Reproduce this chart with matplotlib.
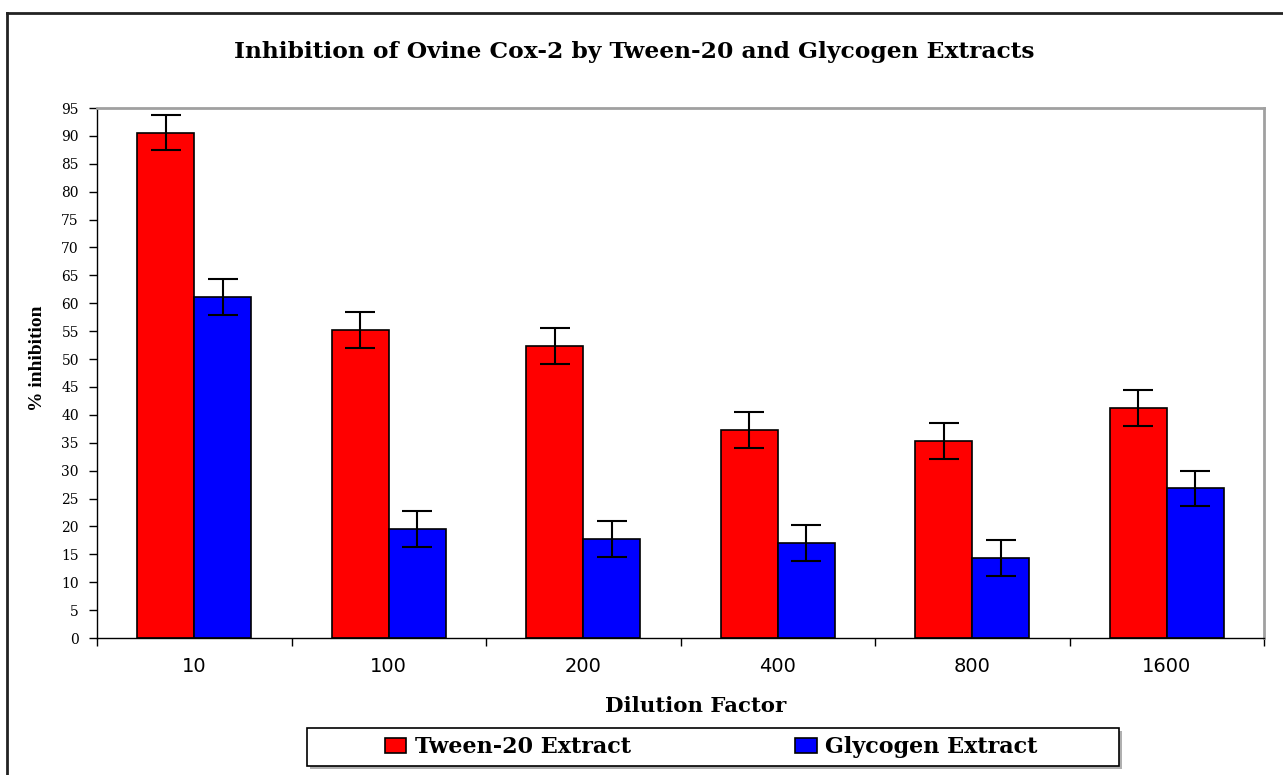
import matplotlib
matplotlib.use("Agg")
import matplotlib.pyplot as plt
import numpy as np
from matplotlib.patches import Rectangle
from matplotlib.lines import Line2D

categories = ["10", "100", "200", "400", "800", "1600"]
tween = [90.6, 55.2, 52.3, 37.3, 35.3, 41.2]
glycogen = [61.1, 19.6, 17.8, 17.0, 14.3, 26.8]
tween_err = [3.2, 3.2, 3.2, 3.2, 3.2, 3.2]
glycogen_err = [3.2, 3.2, 3.2, 3.2, 3.2, 3.2]
yticks = list(range(0, 96, 5))

W, H = 1283, 775
fig = plt.figure(figsize=(W / 100, H / 100), dpi=100)
AX0, AX1, AY0, AY1 = 97, 1264, 108, 638
ax = fig.add_axes([AX0 / W, 1 - AY1 / H, (AX1 - AX0) / W, (AY1 - AY0) / H])

x = np.arange(len(categories))
bw = 0.293
ekw = dict(elinewidth=1.5, capthick=1.5, ecolor="black")
ax.bar(x - bw / 2, tween, bw, color="#FF0000", edgecolor="black", linewidth=1.2,
       yerr=tween_err, capsize=10.5, error_kw=ekw, label="Tween-20 Extract", zorder=2)
ax.bar(x + bw / 2, glycogen, bw, color="#0000FF", edgecolor="black", linewidth=1.2,
       yerr=glycogen_err, capsize=10.5, error_kw=ekw, label="Glycogen Extract", zorder=2)

ax.set_xlim(-0.5, len(categories) - 0.5)
ax.set_ylim(0, 95)
ax.set_yticks(yticks)
ax.set_yticklabels([str(t) for t in yticks], family="DejaVu Serif", fontsize=10)
ax.set_xticks(x)
ax.set_xticklabels(categories, family="DejaVu Sans", fontsize=14)
ax.tick_params(axis="x", which="major", length=0, pad=14)
ax.set_xticks(np.arange(-0.5, len(categories), 1), minor=True)
ax.tick_params(axis="x", which="minor", length=6, width=1, direction="out")
ax.tick_params(axis="y", length=6, width=1, direction="out", pad=7)

for s in ["top", "right"]:
    ax.spines[s].set_color("#a0a0a0")
    ax.spines[s].set_linewidth(2)
for s in ["left", "bottom"]:
    ax.spines[s].set_color("black")
    ax.spines[s].set_linewidth(1)

ax.set_xlabel("Dilution Factor", family="DejaVu Serif", fontweight="bold", fontsize=15.3)
ax.xaxis.set_label_coords((696 - AX0) / (AX1 - AX0), -(706 - AY1) / (AY1 - AY0))
ax.xaxis.label.set_va("center")
ax.set_ylabel("% inhibition", family="Liberation Serif", fontweight="bold", fontsize=14)
ax.yaxis.set_label_coords(-(AX0 - 37) / (AX1 - AX0), (AY1 - 358) / (AY1 - AY0))
ax.yaxis.label.set_va("center")

fig.text(634 / W, 1 - 52 / H, "Inhibition of Ovine Cox-2 by Tween-20 and Glycogen Extracts",
         family="DejaVu Serif", fontweight="bold", fontsize=16.8,
         ha="center", va="center")

# outer chart frame
fig.add_artist(Line2D([7 / W, 7 / W], [0, 1 - 13 / H], transform=fig.transFigure,
                      color="#222222", lw=2))
fig.add_artist(Line2D([7 / W, 1], [1 - 13 / H, 1 - 13 / H], transform=fig.transFigure,
                      color="#222222", lw=2))

# legend box with shadow
lx0, lx1, ly0, ly1 = 307, 1119, 728, 766
fig.add_artist(Rectangle(((lx0 + 3) / W, 1 - (ly1 + 3) / H), (lx1 - lx0) / W, (ly1 - ly0) / H,
                         transform=fig.transFigure, facecolor="#b0b0b0", edgecolor="none"))
fig.add_artist(Rectangle((lx0 / W, 1 - ly1 / H), (lx1 - lx0) / W, (ly1 - ly0) / H,
                         transform=fig.transFigure, facecolor="white", edgecolor="black", lw=1.2))
handles, labels = ax.get_legend_handles_labels()
fs = 16
leg = fig.legend(handles, labels, loc="center left",
                 bbox_to_anchor=(385 / W, 1 - (ly0 + ly1) / 2 / H),
                 ncol=2, frameon=False, borderpad=0, borderaxespad=0,
                 columnspacing=7.4, handlelength=0.95, handleheight=0.68,
                 handletextpad=0.4,
                 prop=dict(family="DejaVu Serif", weight="bold", size=fs))

fig.savefig("out.png", dpi=100, facecolor="white")
